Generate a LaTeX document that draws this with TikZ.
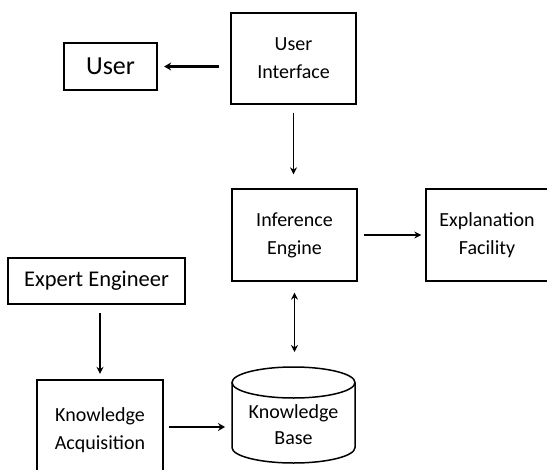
\documentclass[tikz,border=0pt]{standalone}
\usepackage{fontspec}
\setmainfont{Carlito}
\usetikzlibrary{arrows.meta}
\begin{document}
\begin{tikzpicture}[x=1bp,y=-1bp,
  box/.style={draw, line width=1.3bp, inner sep=0pt, align=center,
    font=\fontsize{20bp}{28bp}\selectfont},
  boldbox/.style={box, line width=2.3bp},
  link/.style={line width=1.3bp, -{Stealth[length=7bp,width=7bp]}},
  boldlink/.style={line width=2.4bp, -{Stealth[length=7bp,width=8bp]}},
  both/.style={line width=1.3bp, {Stealth[length=7bp,width=7bp]}-{Stealth[length=7bp,width=7bp]}},
  txt/.style={align=center, inner sep=0pt, font=\fontsize{20bp}{26bp}\selectfont}]
  \useasboundingbox (0,0) rectangle (547,470);
  \begin{scope}
    \clip (0,0) rectangle (547,470);

    % boxes
    \node[boldbox, minimum width=93bp, minimum height=47bp,
      font=\fontsize{26bp}{30bp}\selectfont] (user) at (110.5,66.5) {User};
    \node[box, minimum width=125bp, minimum height=91bp] (ui) at (293.5,58.5) {User\\Interface};
    \node[box, minimum width=125bp, minimum height=92bp] (ie) at (294.5,235) {Inference\\Engine};
    \node[box, minimum width=122bp, minimum height=92bp] (ef) at (487,235) {Explanation\\Facility};
    \node[boldbox, minimum width=177bp, minimum height=46bp,
      font=\fontsize{22.5bp}{26bp}\selectfont] (ee) at (96.5,281) {Expert Engineer};
    \node[boldbox, minimum width=126bp, minimum height=100bp] (ka) at (100,430) {Knowledge\\Acquisition};

    % knowledge base drum
    \draw[line width=1.5bp] (232,382.5) -- (232,447.5)
      arc[start angle=180, end angle=360, x radius=61.5bp, y radius=15.5bp]
      -- (355,382.5);
    \draw[line width=1.5bp] (293.5,382.5) ellipse [x radius=61.5bp, y radius=15.5bp];
    \node[txt] (kb) at (293.5,425) {Knowledge\\Base};
    \coordinate (kbtop) at (293.5,367);
    \coordinate (kbw) at (232,427);

    % connectors
    \draw[boldlink, shorten <=11bp, shorten >=6bp] (ui.west |- user.east) -- (user.east);
    \draw[link, shorten <=8bp, shorten >=14bp] (ui.south) -- (ui.south |- ie.north);
    \draw[link, shorten <=6bp, shorten >=4bp] (ie.east) -- (ef.west);
    \draw[both, shorten <=11bp, shorten >=15bp] (ie.south) -- (ie.south |- kbtop);
    \draw[link, line width=1.6bp, shorten <=8bp, shorten >=5bp] (ee.south -| ka.north) -- (ka.north);
    \draw[boldlink, shorten <=5bp, shorten >=7bp] (ka.east |- kbw) -- (kbw);
  \end{scope}
\end{tikzpicture}
\end{document}
